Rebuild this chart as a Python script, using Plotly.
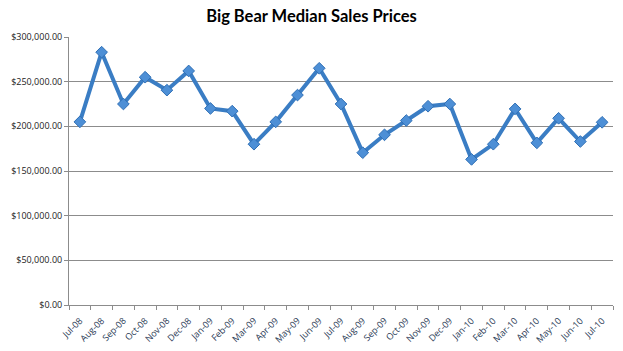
import plotly.graph_objects as go

months = ["Jul-08","Aug-08","Sep-08","Oct-08","Nov-08","Dec-08","Jan-09","Feb-09","Mar-09",
          "Apr-09","May-09","Jun-09","Jul-09","Aug-09","Sep-09","Oct-09","Nov-09","Dec-09",
          "Jan-10","Feb-10","Mar-10","Apr-10","May-10","Jun-10","Jul-10"]
prices = [205000, 283000, 225000, 255000, 240500, 262000, 220000, 217000, 180000,
          205000, 235000, 265000, 225000, 170500, 190500, 206500, 222500, 225000,
          163000, 180000, 219500, 181500, 209000, 183000, 204500]
ytick_vals = [0, 50000, 100000, 150000, 200000, 250000, 300000]
ytick_text = ["$0.00", "$50,000.00", "$100,000.00", "$150,000.00", "$200,000.00",
              "$250,000.00", "$300,000.00"]

fig = go.Figure()
fig.add_trace(go.Scatter(
    x=months, y=prices, mode="lines+markers",
    line=dict(color="#3a7dc4", width=4),
    marker=dict(symbol="diamond", size=9, color="#4d8fd6",
                line=dict(color="#2f6fb5", width=1)),
    showlegend=False,
))

fig.update_layout(
    width=623, height=351,
    margin=dict(l=69, r=10, t=37, b=46),
    paper_bgcolor="white", plot_bgcolor="white",
    title=dict(text="<b>Big Bear Median Sales Prices</b>", x=0.5, xanchor="center",
               y=0.955, yanchor="middle",
               font=dict(family="Lato, Open Sans, sans-serif", size=16.5, color="black")),
    font=dict(family="Open Sans, sans-serif", color="#333333"),
)
fig.update_xaxes(
    type="category", range=[-0.5, len(months) - 0.5],
    showline=True, linecolor="#8c8c8c", linewidth=1,
    ticks="outside", tickson="boundaries", ticklen=4, tickcolor="#8c8c8c",
    tickangle=-45, tickfont=dict(size=9, color="#2a3a55"),
    ticklabelstandoff=6, automargin=False,
    showgrid=False,
)
fig.update_yaxes(
    range=[0, 300000], tickvals=ytick_vals, ticktext=ytick_text,
    showline=True, linecolor="#8c8c8c", linewidth=1,
    ticks="outside", ticklen=4, tickcolor="#8c8c8c",
    showgrid=True, gridcolor="#8c8c8c", gridwidth=1, automargin=False,
    tickfont=dict(size=9, color="#222222"), zeroline=False,
)

fig.write_html("out.html")
